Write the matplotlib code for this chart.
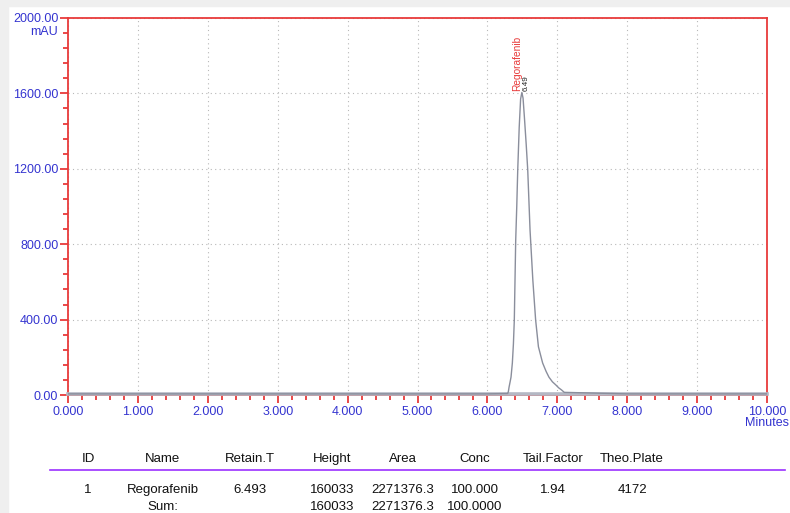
import matplotlib
matplotlib.use("Agg")
import matplotlib.pyplot as plt
from matplotlib.ticker import MultipleLocator, FormatStrFormatter
from matplotlib.patches import Rectangle

plt.rcParams['font.family'] = ['Liberation Sans', 'DejaVu Sans']

# Chromatogram signal (minutes, mAU)
time_min = [0.0, 6.0, 6.29, 6.30, 6.31, 6.325, 6.338, 6.357, 6.372, 6.385, 6.405, 6.42,
            6.434, 6.455, 6.475, 6.493, 6.51, 6.53, 6.555, 6.577, 6.61, 6.65, 6.69,
            6.73, 6.79, 6.84, 6.88, 6.93, 6.98, 7.02, 7.06, 7.10, 8.0, 10.0]
signal_mau = [6, 6, 8, 18, 42, 70, 95, 170, 270, 398, 822, 1000,
              1194, 1420, 1570, 1605, 1575, 1470, 1330, 1194, 875, 610, 398,
              256, 170, 125, 95, 70, 53, 38, 27, 14, 6, 6]

baseline_t = [0.0, 10.0]
baseline_v = [6, 6]

peak_name = "Regorafenib"
peak_rt = 6.49
peak_height = 1605

# Results table
headers = ["ID", "Name", "Retain.T", "Height", "Area", "Conc", "Tail.Factor", "Theo.Plate"]
row1 = ["1", "Regorafenib", "6.493", "160033", "2271376.3", "100.000", "1.94", "4172"]
row_sum = ["", "Sum:", "", "160033", "2271376.3", "100.0000", "", ""]

W, H = 790, 513
fig = plt.figure(figsize=(W / 100, H / 100), dpi=100)
fig.patch.set_facecolor('white')

# screenshot shadow strips
fig.patches.append(Rectangle((0, 0), 8 / W, 1, transform=fig.transFigure,
                             color='#efefef', zorder=0))
fig.patches.append(Rectangle((0, 1 - 6 / H), 1, 6 / H, transform=fig.transFigure,
                             color='#efefef', zorder=0))

ax = fig.add_axes([68 / W, 1 - 395 / H, (767 - 68) / W, (395 - 18) / H])
ax.set_xlim(0, 10)
ax.set_ylim(0, 2000)

red = '#e83a3a'
blue = '#3434d0'
for s in ax.spines.values():
    s.set_color(red)
    s.set_linewidth(1.3)

ax.xaxis.set_major_locator(MultipleLocator(1))
ax.xaxis.set_minor_locator(MultipleLocator(0.2))
ax.yaxis.set_major_locator(MultipleLocator(400))
ax.yaxis.set_minor_locator(MultipleLocator(80))
ax.xaxis.set_major_formatter(FormatStrFormatter('%.3f'))
ax.yaxis.set_major_formatter(FormatStrFormatter('%.2f'))

ax.tick_params(axis='both', which='major', direction='out', length=6, width=1.3,
               color=red, labelcolor=blue, labelsize=9)
ax.tick_params(axis='both', which='minor', direction='out', length=3.5, width=1.3,
               color=red)
ax.tick_params(axis='x', pad=2)
ax.tick_params(axis='y', pad=1)

ax.grid(True, which='major', linestyle=(0, (1, 3)), color='#b8b8b8', linewidth=0.8)
ax.set_axisbelow(True)

ax.plot(baseline_t, baseline_v, color='#b4b8c4', linewidth=2.6, zorder=3, clip_on=False)
ax.plot(time_min, signal_mau, color='#8a8e9c', linewidth=1.0, zorder=4)

ax.text(peak_rt - 0.07, peak_height + 10, peak_name, rotation=90, color=red,
        fontsize=7.3, ha='center', va='bottom')
ax.text(peak_rt + 0.065, peak_height + 10, f"{peak_rt:.2f}", rotation=90, color='#222222',
        fontsize=5.8, ha='center', va='bottom')

# axis unit labels
fig.text(58 / W, 1 - 32 / H, "mAU", color=blue, fontsize=9, ha='right', va='center')
fig.text(789 / W, 1 - 423 / H, "Minutes", color=blue, fontsize=9, ha='right', va='center')

# table
col_x = [88, 163, 250, 332, 403, 475, 553, 632]
fs = 9.5
for x, h in zip(col_x, headers):
    fig.text(x / W, 1 - 459 / H, h, fontsize=fs, ha='center', va='center', color='#111111')
fig.add_artist(plt.Line2D([50 / W, 785 / W], [1 - 470 / H, 1 - 470 / H],
                          transform=fig.transFigure, color='#9b30ff', linewidth=1.2))
for x, v in zip(col_x, row1):
    fig.text(x / W, 1 - 490 / H, v, fontsize=fs, ha='center', va='center', color='#111111')
for x, v in zip(col_x, row_sum):
    if v:
        fig.text(x / W, 1 - 507 / H, v, fontsize=fs, ha='center', va='center', color='#111111')

fig.savefig('out.png', dpi=100)
